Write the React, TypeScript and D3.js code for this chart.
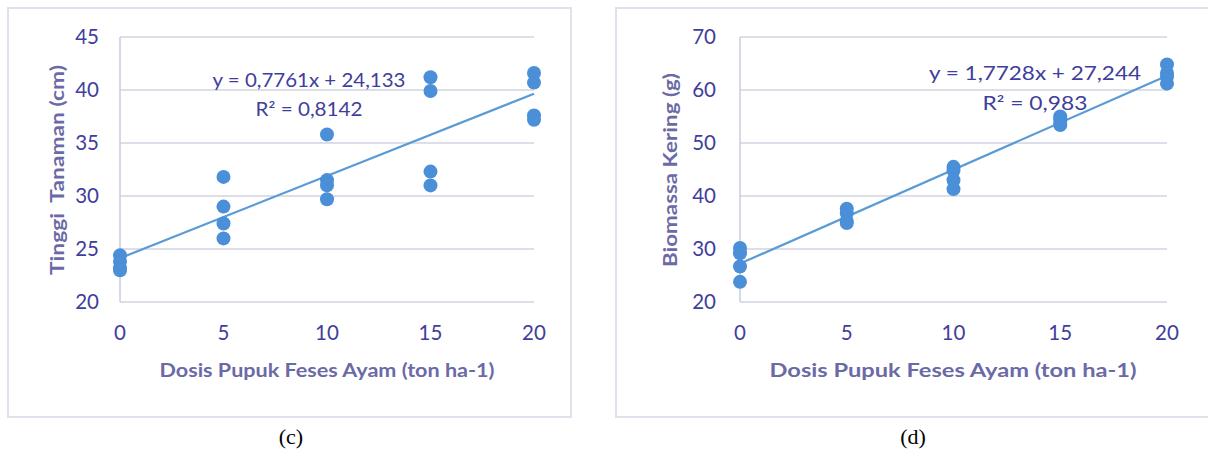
import React from "react";
import * as d3 from "d3";

// ---------- data ----------
const doses = [0, 5, 10, 15, 20];
const xTicks = [0, 5, 10, 15, 20];

// Tinggi Tanaman (cm): replicates per dose
const tinggi = [
  [24.4, 23.8, 23.2, 23.0],
  [31.8, 29.0, 27.4, 26.0],
  [35.8, 31.5, 31.0, 29.7],
  [41.2, 39.9, 32.3, 31.0],
  [41.6, 40.7, 37.6, 37.2],
];
const tinggiTicks = [20, 25, 30, 35, 40, 45];
const tinggiSlope = 0.7761;
const tinggiIntercept = 24.133;
const tinggiEq = "y = 0,7761x + 24,133";
const tinggiR2 = "R² = 0,8142";
const tinggiTitle = "Tinggi\u00a0\u00a0Tanaman (cm)";

// Biomassa Kering (g): replicates per dose
const biomassa = [
  [30.2, 29.2, 26.7, 23.8],
  [37.6, 36.8, 35.3, 34.9],
  [45.5, 44.8, 43.0, 41.3],
  [55.0, 54.5, 53.8, 53.4],
  [64.8, 63.2, 62.5, 61.2],
];
const biomassaTicks = [20, 30, 40, 50, 60, 70];
const biomassaSlope = 1.7728;
const biomassaIntercept = 27.244;
const biomassaEq = "y = 1,7728x + 27,244";
const biomassaR2 = "R² = 0,983";
const biomassaTitle = "Biomassa Kering (g)";

const xTitle = "Dosis Pupuk Feses Ayam (ton ha-1)";

// ---------- styles ----------
const FONT = "Lato, 'Open Sans', sans-serif";
const TICK_COLOR = "#3f3e9c";
const TITLE_COLOR = "#6b6aa6";
const DOT_COLOR = "#4a8fd8";
const LINE_COLOR = "#5b9bd5";
const GRID_COLOR = "#dcdfe7";
const FRAME_COLOR = "#dfe2ea";

type PanelProps = {
  values: number[][];
  yTicks: number[];
  slope: number;
  intercept: number;
  eq: string;
  r2: string;
  yTitle: string;
  caption: string;
  frame: { x: number; y: number; w: number; h: number };
  px: [number, number];
  py: [number, number];
  yLabelX: number;
  xLabelY: number;
  xTitlePos: [number, number, number];
  yTitlePos: [number, number, number];
  eqPos: [number, number, number];
  r2Pos: [number, number, number];
  captionPos: [number, number];
};

function Panel(p: PanelProps) {
  const x = d3.scaleLinear().domain([0, 20]).range(p.px);
  const y = d3
    .scaleLinear()
    .domain([p.yTicks[0], p.yTicks[p.yTicks.length - 1]])
    .range(p.py);
  const line = d3
    .line<number>()
    .x((d) => x(d))
    .y((d) => y(p.slope * d + p.intercept));
  const pts: { d: number; v: number }[] = [];
  doses.forEach((d, i) => p.values[i].forEach((v) => pts.push({ d, v })));
  return (
    <g>
      <rect
        x={p.frame.x}
        y={p.frame.y}
        width={p.frame.w}
        height={p.frame.h}
        fill="#fff"
        stroke={FRAME_COLOR}
        strokeWidth={2}
      />
      {p.yTicks.map((t) => (
        <line
          key={"g" + t}
          x1={p.px[0]}
          x2={p.px[1]}
          y1={y(t)}
          y2={y(t)}
          stroke={GRID_COLOR}
          strokeWidth={2}
        />
      ))}
      <line
        x1={p.px[0]}
        x2={p.px[0]}
        y1={p.py[0]}
        y2={p.py[1]}
        stroke="#c9cee0"
        strokeWidth={1.5}
      />
      {p.yTicks.map((t) => (
        <text
          key={"yl" + t}
          x={p.yLabelX}
          y={y(t)}
          dy="0.35em"
          textAnchor="end"
          fontFamily={FONT}
          fontSize={20.5}
          fill={TICK_COLOR}
        >
          {t}
        </text>
      ))}
      {xTicks.map((t) => (
        <text
          key={"xl" + t}
          x={x(t)}
          y={p.xLabelY}
          dy="0.35em"
          textAnchor="middle"
          fontFamily={FONT}
          fontSize={20.5}
          fill={TICK_COLOR}
        >
          {t}
        </text>
      ))}
      <path d={line([0, 20]) || ""} fill="none" stroke={LINE_COLOR} strokeWidth={2.2} />
      {pts.map((pt, i) => (
        <circle key={i} cx={x(pt.d)} cy={y(pt.v)} r={7} fill={DOT_COLOR} />
      ))}
      <text
        x={p.eqPos[0]}
        y={p.eqPos[1]}
        textAnchor="middle"
        fontFamily={FONT}
        fontSize={18.5}
        fill={TICK_COLOR}
        textLength={p.eqPos[2]}
        lengthAdjust="spacingAndGlyphs"
      >
        {p.eq}
      </text>
      <text
        x={p.r2Pos[0]}
        y={p.r2Pos[1]}
        textAnchor="middle"
        fontFamily={FONT}
        fontSize={18.5}
        fill={TICK_COLOR}
        textLength={p.r2Pos[2]}
        lengthAdjust="spacingAndGlyphs"
      >
        {p.r2}
      </text>
      <text
        x={p.xTitlePos[0]}
        y={p.xTitlePos[1]}
        dy="0.35em"
        textAnchor="middle"
        fontFamily={FONT}
        fontWeight="bold"
        fontSize={19}
        fill={TITLE_COLOR}
        textLength={p.xTitlePos[2]}
        lengthAdjust="spacingAndGlyphs"
      >
        {xTitle}
      </text>
      <text
        transform={`translate(${p.yTitlePos[0]},${p.yTitlePos[1]}) rotate(-90)`}
        dy="0.35em"
        textAnchor="middle"
        fontFamily={FONT}
        fontWeight="bold"
        fontSize={19}
        fill={TITLE_COLOR}
        textLength={p.yTitlePos[2]}
        lengthAdjust="spacingAndGlyphs"
      >
        {p.yTitle}
      </text>
      <text
        x={p.captionPos[0]}
        y={p.captionPos[1]}
        dy="0.35em"
        textAnchor="middle"
        fontFamily="'Liberation Serif', 'Times New Roman', serif"
        fontSize={22}
        fill="#000"
      >
        {p.caption}
      </text>
    </g>
  );
}

export default function App() {
  return (
    <svg
      width={1208}
      height={450}
      style={{ position: "absolute", left: 0, top: 0, background: "#fff" }}
    >
      <rect x={0} y={0} width={1208} height={450} fill="#fff" />
      <Panel
        values={tinggi}
        yTicks={tinggiTicks}
        slope={tinggiSlope}
        intercept={tinggiIntercept}
        eq={tinggiEq}
        r2={tinggiR2}
        yTitle={tinggiTitle}
        caption="(c)"
        frame={{ x: 8, y: 8, w: 563, h: 409 }}
        px={[120, 534]}
        py={[302, 37]}
        yLabelX={99}
        xLabelY={333}
        xTitlePos={[327, 370, 335]}
        yTitlePos={[57, 170, 210]}
        eqPos={[309, 87, 193]}
        r2Pos={[309, 116, 107]}
        captionPos={[291, 436]}
      />
      <Panel
        values={biomassa}
        yTicks={biomassaTicks}
        slope={biomassaSlope}
        intercept={biomassaIntercept}
        eq={biomassaEq}
        r2={biomassaR2}
        yTitle={biomassaTitle}
        caption="(d)"
        frame={{ x: 616, y: 8, w: 600, h: 409 }}
        px={[740, 1167]}
        py={[302, 37]}
        yLabelX={716}
        xLabelY={333}
        xTitlePos={[953, 370, 367]}
        yTitlePos={[670, 170, 194]}
        eqPos={[1035, 80, 212]}
        r2Pos={[1035, 110, 105]}
        captionPos={[913, 436]}
      />
    </svg>
  );
}
